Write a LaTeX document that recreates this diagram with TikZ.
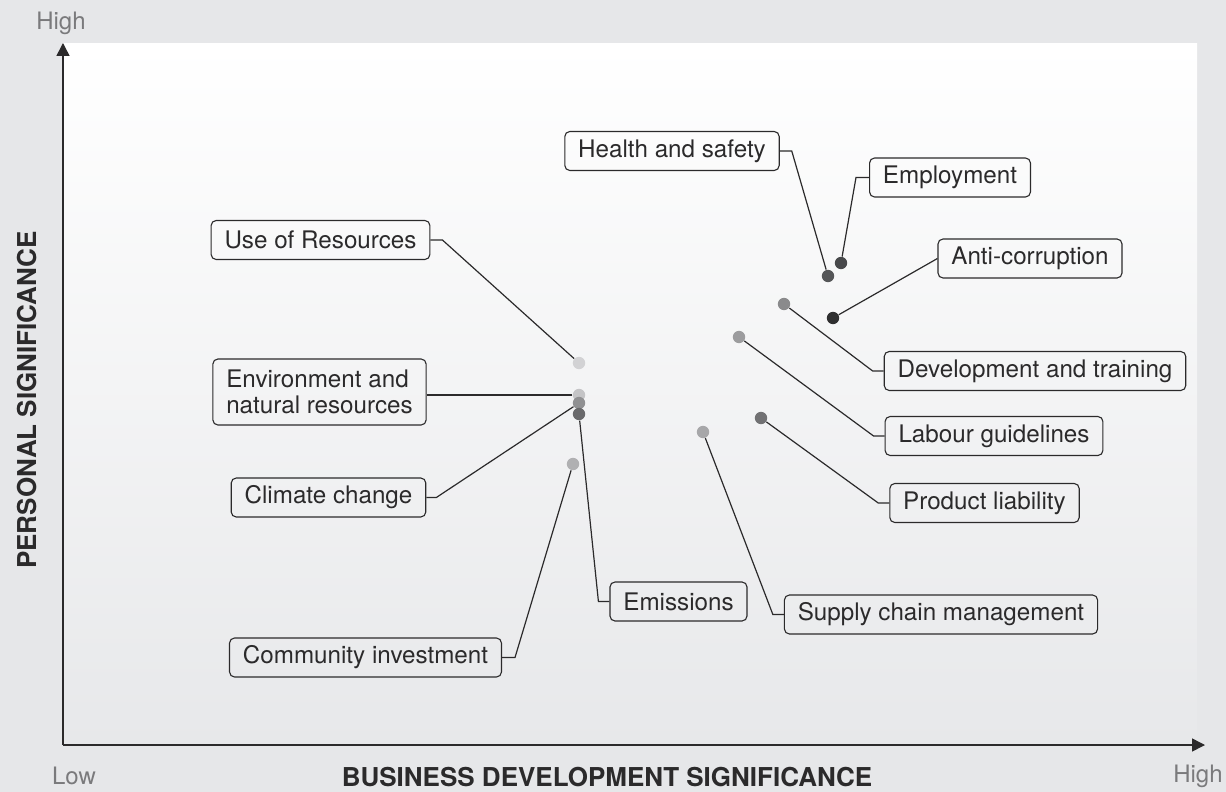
\documentclass[tikz,border=0pt]{standalone}
\usepackage{fontspec}
\setmainfont{TeX Gyre Heros}
\usetikzlibrary{arrows.meta}
\definecolor{bggray}{HTML}{E6E7E9}
\definecolor{panelbot}{HTML}{E7E8EA}
\definecolor{ink}{HTML}{2B2A2B}
\definecolor{axisgray}{HTML}{7A7A7C}
\definecolor{dotA}{HTML}{2F2F30}
\definecolor{dotB}{HTML}{48494B}
\definecolor{dotC}{HTML}{555658}
\definecolor{dotD}{HTML}{69696B}
\definecolor{dotE}{HTML}{717173}
\definecolor{dotF}{HTML}{8A8A8C}
\definecolor{dotG}{HTML}{909092}
\definecolor{dotH}{HTML}{9C9C9E}
\definecolor{dotI}{HTML}{A7A7A9}
\definecolor{dotJ}{HTML}{B0B0B2}
\definecolor{dotK}{HTML}{C4C4C6}
\definecolor{dotL}{HTML}{D2D2D4}

\begin{document}
\begin{tikzpicture}[x=0.5pt,y=-0.5pt,
    box/.style = {draw=ink, line width=0.55pt, rounded corners=2.5pt, text=ink, font=\fontsize{12.1}{13}\selectfont, minimum height=19.5pt, inner xsep=6.7pt, inner ysep=0pt},
    dot/.style = {circle, fill=#1, inner sep=0pt, minimum size=6.2pt},
    link/.style = {draw=ink, line width=0.6pt},
    axis/.style = {draw=ink, line width=0.75pt, -{Triangle[length=6.5pt,width=6.5pt]}},
    tick/.style = {text=axisgray, font=\fontsize{12}{14}\selectfont},
    title/.style = {text=ink, font=\fontsize{13}{15}\selectfont\bfseries}]
    \fill[bggray] (0,0) rectangle (1226,792);
    \useasboundingbox (0,0) rectangle (1226,792);
    \shade[top color=white, bottom color=panelbot] (63,44) rectangle (1197,745);

    \coordinate (o) at (63,745);
    \coordinate (ytop) at (63,43);
    \coordinate (xend) at (1205,745);
    \draw[axis] (o) -- (ytop);
    \draw[axis] (o) -- (xend);

    \node[tick] (highy) at (61,23) {High};
    \node[tick] (low) at (74,776) {Low};
    \node[tick] (highx) at (1198,776) {High};
    \node[title] (xtitle) at (607,777) {BUSINESS DEVELOPMENT SIGNIFICANCE};
    \node[title, rotate=90] (ytitle) at (27,400) {PERSONAL SIGNIFICANCE};

    \node[box] (health) at (672,151) {Health and safety};
    \node[box] (employ) at (950,177.5) {Employment};
    \node[box] (corrupt) at (1030,258.5) {Anti-corruption};
    \node[box] (develop) at (1035,371) {Development and training};
    \node[box] (labour) at (994,436) {Labour guidelines};
    \node[box] (product) at (984.5,503) {Product liability};
    \node[box] (supply) at (941,614.5) {Supply chain management};
    \node[box] (emiss) at (678.5,601.5) {Emissions};
    \node[box] (resource) at (320.5,240) {Use of Resources};
    \node[box, align=left, minimum height=33pt] (environ) at (319.5,392) {Environment and\\natural resources};
    \node[box] (climate) at (328.5,497.5) {Climate change};
    \node[box] (commun) at (365.5,657.5) {Community investment};

    \node[dot=dotC] (d-health) at (828,276) {};
    \node[dot=dotB] (d-employ) at (841,263) {};
    \node[dot=dotA] (d-corrupt) at (833,318) {};
    \node[dot=dotF] (d-develop) at (784,304) {};
    \node[dot=dotH] (d-labour) at (739,337) {};
    \node[dot=dotE] (d-product) at (761,418) {};
    \node[dot=dotI] (d-supply) at (703,432) {};
    \node[dot=dotL] (d-resource) at (579,363) {};
    \node[dot=dotK] (d-environ) at (579,395) {};
    \node[dot=dotG] (d-climate) at (579,403) {};
    \node[dot=dotD] (d-emiss) at (579,414) {};
    \node[dot=dotJ] (d-commun) at (573,464) {};

    \draw[link] (health.east) -- ++(12,0) -- (d-health);
    \draw[link] (employ.west) -- ++(-13,0) -- (d-employ);
    \draw[link] (corrupt.west) -- (d-corrupt);
    \draw[link] (develop.west) -- ++(-11,0) -- (d-develop);
    \draw[link] (labour.west) -- ++(-11,0) -- (d-labour);
    \draw[link] (product.west) -- ++(-11,0) -- (d-product);
    \draw[link] (supply.west) -- ++(-11,0) -- (d-supply);
    \draw[link] (emiss.west) -- ++(-11,0) -- (d-emiss);
    \draw[link] (resource.east) -- ++(12,0) -- (d-resource);
    \draw[link] (d-environ) -- (d-environ -| environ.east);
    \draw[link] (climate.east) -- ++(10,0) -- (d-climate);
    \draw[link] (commun.east) -- ++(13,0) -- (d-commun);
\end{tikzpicture}
\end{document}
